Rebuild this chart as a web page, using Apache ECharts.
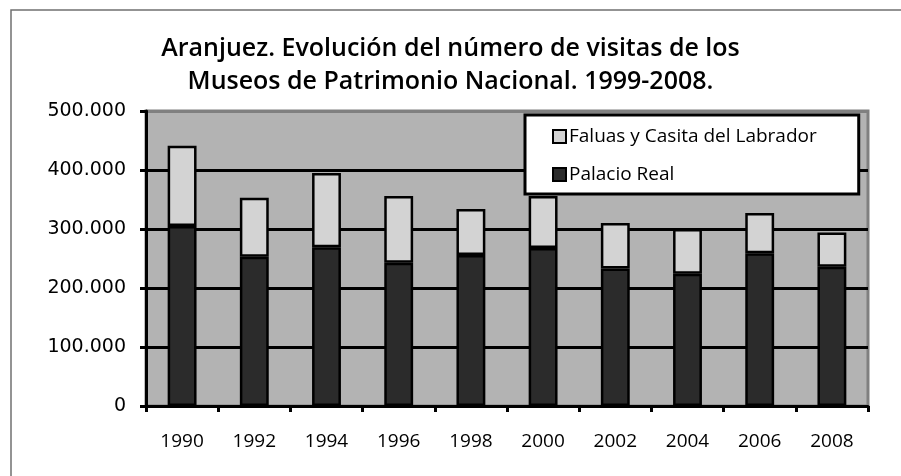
<!DOCTYPE html>
<html>
<head>
<meta charset="utf-8">
<script src="https://cdn.jsdelivr.net/npm/echarts@6.0.0/dist/echarts.min.js"></script>
<style>
  html, body { margin: 0; padding: 0; background: #fff; }
  #chart { width: 901px; height: 476px; }
</style>
</head>
<body>
<div id="chart"></div>
<script>
// data
const years = ['1990', '1992', '1994', '1996', '1998', '2000', '2002', '2004', '2006', '2008'];
const palacioReal = [305000, 253000, 269000, 243000, 256000, 268000, 233000, 224000, 259000, 236000];
const faluasCasita = [136000, 100000, 126000, 113000, 78000, 88000, 77000, 76000, 68000, 58000];
const seriesNames = ['Palacio Real', 'Faluas y Casita del Labrador'];

const chart = echarts.init(document.getElementById('chart'));

// 500000 -> 500.000
const fmt = (v) => String(v).replace(/\B(?=(\d{3})+(?!\d))/g, '.');

chart.setOption({
  animation: false,
  backgroundColor: '#fff',
  title: {
    text: 'Aranjuez. Evolución del número de visitas de los\nMuseos de Patrimonio Nacional. 1999-2008.',
    left: 'center',
    top: 27,
    textStyle: {
      fontFamily: 'Open Sans',
      fontWeight: 600,
      fontSize: 25,
      lineHeight: 33,
      color: '#000',
    },
  },
  graphic: [
    {
      // outer frame, only top/left visible in the reference
      type: 'rect',
      shape: { x: 11, y: 10, width: 1000, height: 1000 },
      style: { fill: 'none', stroke: '#707070', lineWidth: 1.5 },
      z: -1,
    },
  ],
  legend: {
    orient: 'vertical',
    left: 525,
    top: 115,
    data: ['Faluas y Casita del Labrador', 'Palacio Real'],
    backgroundColor: '#fff',
    borderColor: '#000',
    borderWidth: 3,
    borderRadius: 0,
    padding: [11, 42, 9, 27],
    itemGap: 17,
    itemWidth: 13,
    itemHeight: 13,
    icon: 'rect',
    textStyle: {
      fontFamily: 'Open Sans',
      fontSize: 19,
      lineHeight: 21,
      color: '#000',
      padding: [0, 0, 0, -2],
    },
  },
  grid: {
    left: 146,
    right: 33,
    top: 111,
    bottom: 70,
    show: true,
    backgroundColor: '#b3b3b3',
    borderColor: '#808080',
    borderWidth: 3,
  },
  xAxis: {
    type: 'category',
    data: years,
    axisLine: { lineStyle: { color: '#000', width: 3 } },
    axisTick: { show: true, length: 6, lineStyle: { color: '#000', width: 3 } },
    axisLabel: {
      fontFamily: 'Open Sans',
      fontSize: 19,
      color: '#000',
      margin: 26,
    },
  },
  yAxis: {
    type: 'value',
    min: 0,
    max: 500000,
    interval: 100000,
    axisLine: { show: true, lineStyle: { color: '#000', width: 3 } },
    axisTick: { show: true, length: 6, lineStyle: { color: '#000', width: 3 } },
    splitLine: {
      lineStyle: {
        color: ['#000', '#000', '#000', '#000', '#000', '#808080'],
        width: 3,
      },
    },
    axisLabel: {
      fontFamily: 'DejaVu Sans',
      fontSize: 19,
      color: '#000',
      margin: 20,
      formatter: fmt,
    },
  },
  series: [
    {
      name: seriesNames[0],
      type: 'bar',
      stack: 'total',
      data: palacioReal,
      barWidth: '40%',
      itemStyle: { color: '#2b2b2b', borderColor: '#000', borderWidth: 2.5 },
    },
    {
      name: seriesNames[1],
      type: 'bar',
      stack: 'total',
      data: faluasCasita,
      barWidth: '40%',
      itemStyle: { color: '#d3d3d3', borderColor: '#000', borderWidth: 2.5 },
    },
  ],
});
</script>
</body>
</html>
